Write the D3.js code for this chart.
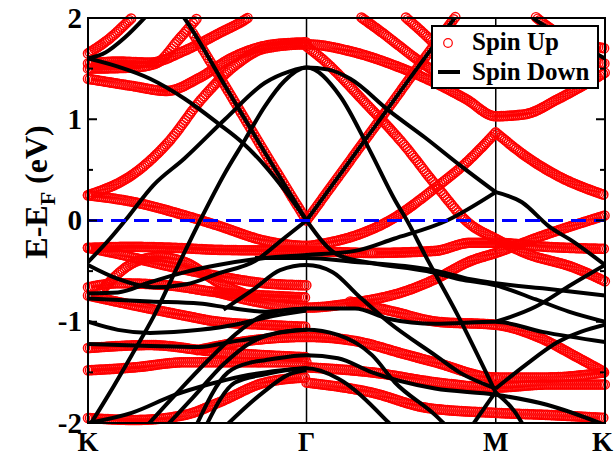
<!DOCTYPE html>
<html><head><meta charset="utf-8">
<script src="https://cdn.jsdelivr.net/npm/d3@7"></script>
<style>body{margin:0;background:#fff}</style>
</head><body><svg id="c" width="614" height="457"></svg>
<script>
// ---- axis data ----
const kTicks = [0, 1, 1.866, 2.366];
const kLabels = ["K", "Γ", "M", "K"];
const eTicks = [-2, -1, 0, 1, 2];
const eMinor = [-1.5, -0.5, 0.5, 1.5];
const legendLabels = ["Spin Up", "Spin Down"];

// ---- Spin Up bands (red circles): [k, E] ----
const up1 = [[0,0.25],[0.215,0.47],[0.366,0.77],[0.52,1.20],[0.673,1.53],[0.81,1.70],[1.0,1.74],[1.222,1.66],[1.405,1.53],[1.588,1.36],[1.73,1.20],[1.866,1.03],[2.0,1.05],[2.151,1.20],[2.366,1.46]];
const up2 = [[0,0.25],[0.215,0.18],[0.444,0.05],[0.595,-0.05],[0.81,-0.20],[1.0,-0.25],[1.07,-0.23],[1.222,-0.15],[1.38,0.0],[1.588,0.32],[1.73,0.57],[1.866,0.87]];
const up2b = [[1.866,0.87],[2.0,0.64],[2.151,0.44],[2.366,0.25]];
const up3 = [[1.0,0],[1.29,0.86],[1.57,1.69],[1.72,2.12]];
const up4 = [[0.48,1.85],[0.627,1.33],[0.81,0.67],[1.0,0]];
const up5 = [[1.0,1.72],[1.07,1.6],[1.27,1.16],[1.43,0.79],[1.61,0.30],[1.739,-0.02],[1.866,-0.18],[2.0,-0.32],[2.23,-0.47],[2.366,-0.60]];
const up6 = [[0.595,-0.71],[0.764,-0.80],[1.0,-0.86],[1.222,-0.81],[1.45,-0.70],[1.588,-0.58],[1.75,-0.40],[1.866,-0.32],[2.08,-0.15],[2.366,0.05]];
const up7 = [[0,-0.27],[0.2,-0.26],[0.4,-0.27],[0.6,-0.29],[1.0,-0.30],[1.3,-0.32],[1.588,-0.30],[1.75,-0.22],[1.866,-0.22],[2.1,-0.26],[2.366,-0.28]];
const up8 = [[0,-0.27],[0.137,-0.33],[0.366,-0.45],[0.6,-0.55],[0.81,-0.62],[1.0,-0.64]];
const up9 = [[0,-0.66],[0.137,-0.62],[0.366,-0.64],[0.595,-0.71],[0.81,-0.74],[1.0,-0.76]];
const up10 = [[0,-0.74],[0.215,-0.84],[0.444,-0.94],[0.595,-1.0],[0.81,-1.03],[1.0,-1.05]];
const up11 = [[0,-1.26],[0.284,-1.23],[0.595,-1.30],[0.81,-1.33],[1.0,-1.35]];
const up12 = [[0,-1.48],[0.215,-1.45],[0.444,-1.40],[0.673,-1.40],[0.81,-1.40],[1.0,-1.40]];
const up13 = [[0,-1.95],[0.215,-1.97],[0.444,-1.92],[0.595,-1.80],[0.81,-1.60],[1.0,-1.55]];
const up14 = [[0,1.65],[0.10,1.80],[0.2,2.0],[0.25,2.1]];
const up15 = [[0,1.55],[0.137,1.57],[0.284,1.56],[0.444,1.68],[0.6,1.85],[0.73,2.0],[0.78,2.08]];
const up16 = [[0,1.50],[0.2,1.51],[0.31,1.55],[0.42,1.80],[0.52,2.05]];
const up17 = [[0,1.40],[0.2,1.33],[0.36,1.28],[0.51,1.41],[0.66,1.61],[0.85,1.74],[1.0,1.76]];
const up18 = [[0.5,-1.28],[0.764,-1.18],[1.0,-1.15],[1.222,-1.19],[1.45,-1.32],[1.588,-1.40],[1.866,-1.55],[2.1,-1.55],[2.366,-1.5]];
const up19 = [[1.2,-0.80],[1.4,-0.90],[1.6,-1.0],[1.866,-1.03],[2.08,-1.17],[2.23,-1.34],[2.366,-1.5]];
const up20 = [[1.0,-1.45],[1.3,-1.5],[1.6,-1.6],[1.866,-1.65],[2.1,-1.62],[2.366,-1.62]];
const up21 = [[1.0,-1.6],[1.3,-1.7],[1.55,-1.85],[1.866,-1.9],[2.1,-1.92],[2.366,-1.95]];
const up22 = [[1.222,2.05],[1.35,1.85],[1.5,1.6],[1.6,1.45]];
const up23 = [[1.43,2.05],[1.55,1.82],[1.65,1.6]];
const up24 = [[2.0,2.1],[2.15,1.85],[2.366,1.7]];
const up25 = [[2.2,1.6],[2.366,1.55]];
const up26 = [[0.05,-0.72],[0.215,-0.41],[0.32,-0.36],[0.444,-0.41],[0.595,-0.61],[0.75,-0.75]];
const spinUp = [up1,up2,up2b,up3,up4,up5,up6,up7,up8,up9,up10,up11,up12,up13,up14,up15,up16,up17,up18,up19,up20,up21,up22,up23,up24,up25,up26];

// ---- Spin Down bands (black lines): [k, E] ----
const dn1 = [[0.40,2.12],[0.444,1.99],[0.627,1.33],[0.81,0.67],[1.0,0]];
const dn1b = [[1.0,0],[1.144,-0.34],[1.30,-0.42],[1.55,-0.50],[1.70,-0.58],[1.866,-0.64],[2.05,-0.78],[2.2,-0.90],[2.366,-1.0]];
const dn2 = [[0,1.6],[0.137,1.52],[0.284,1.40],[0.444,1.20],[0.595,0.96],[0.706,0.77],[0.81,0.54],[0.90,0.30],[1.0,0]];
const dn2b = [[1.0,0],[1.29,0.86],[1.57,1.69],[1.72,2.12]];
const dn3 = [[0,-0.44],[0.14,-0.58],[0.30,-0.66],[0.45,-0.63],[0.60,-0.52],[0.764,-0.40],[0.90,-0.17],[1.0,0]];
const dn4 = [[0,1.6],[0.08,1.66],[0.17,1.81],[0.28,2.05]];
const dn5 = [[0,-0.41],[0.10,-0.18],[0.17,0],[0.30,0.35],[0.44,0.61],[0.627,1.0],[0.81,1.36],[0.92,1.47],[1.0,1.51],[1.10,1.49],[1.20,1.40],[1.38,1.08],[1.542,0.82],[1.70,0.55],[1.866,0.28]];
const dn5b = [[1.866,0.28],[1.986,0.18],[2.105,-0.05],[2.229,-0.22],[2.366,-0.44]];
const dn6 = [[0,-2.05],[0.10,-1.7],[0.20,-1.33],[0.30,-0.95],[0.40,-0.50],[0.513,0],[0.627,0.47],[0.719,0.80],[0.81,1.13],[0.90,1.38],[1.0,1.51],[1.153,1.23],[1.29,0.69],[1.405,0.2],[1.465,-0.02],[1.542,-0.34],[1.693,-0.94],[1.866,-1.70]];
const dn6b = [[1.866,-1.70],[1.95,-1.88],[2.0,-2.05]];
const dn7 = [[0,-0.72],[0.137,-0.71],[0.284,-0.61],[0.444,-0.51],[0.595,-0.44],[0.81,-0.37],[1.0,-0.34],[1.222,-0.30],[1.40,-0.18],[1.643,0],[1.866,0.28]];
const dn8 = [[0.764,-0.37],[1.0,-0.37],[1.222,-0.41],[1.45,-0.45],[1.60,-0.50],[1.75,-0.58],[1.866,-0.62],[2.08,-0.67],[2.366,-0.74]];
const dn9 = [[0,-0.77],[0.284,-0.80],[0.51,-0.82],[0.64,-0.86],[0.81,-0.90],[1.0,-0.87],[1.222,-0.87],[1.373,-0.97],[1.588,-1.02],[1.866,-1.0],[2.08,-1.10],[2.366,-1.20]];
const dn10 = [[0,-1.0],[0.137,-1.08],[0.284,-1.11],[0.513,-1.08],[0.673,-1.03],[0.81,-0.96],[1.0,-0.89]];
const dn11 = [[0.62,-0.88],[0.764,-0.67],[0.879,-0.49],[1.0,-0.44],[1.12,-0.51],[1.236,-0.74],[1.373,-1.0],[1.588,-1.33],[1.70,-1.50],[1.866,-1.66]];
const dn11b = [[1.866,-1.66],[2.0,-1.43],[2.15,-1.2],[2.366,-1.03]];
const dn12 = [[0,-1.22],[0.284,-1.24],[0.51,-1.25],[0.65,-1.2],[0.764,-1.16],[0.89,-1.10],[1.0,-1.08],[1.144,-1.13],[1.30,-1.33],[1.405,-1.60],[1.588,-1.92],[1.65,-2.05]];
const dn13 = [[0.49,-2.05],[0.64,-1.5],[0.75,-1.40],[0.81,-1.38],[1.0,-1.33],[1.144,-1.36],[1.30,-1.5],[1.588,-1.66],[1.866,-1.72],[2.1,-1.82],[2.366,-2.02]];
const dn14 = [[0.535,-2.05],[0.673,-1.60],[0.81,-1.52],[1.0,-1.46],[1.144,-1.56],[1.373,-1.99],[1.40,-2.05]];
const dn15 = [[0.62,-2.05],[0.80,-1.70],[0.92,-1.52],[1.0,-1.48]];
const dn16 = [[0.26,-2.05],[0.40,-1.72],[0.55,-1.38],[0.70,-1.08],[0.81,-0.93],[1.0,-0.87]];
const dn17 = [[0.35,-2.05],[0.48,-1.75],[0.62,-1.42],[0.75,-1.20],[0.85,-1.12],[1.0,-1.08]];
const dn18 = [[1.75,-2.05],[1.866,-1.69]];
const dn19 = [[1.98,2.1],[2.05,1.98],[2.2,1.8],[2.366,1.6]];
const dn20 = [[1.866,-1.0],[2.05,-0.85],[2.2,-0.65],[2.366,-0.44]];
const dn21 = [[0,-2.0],[0.2,-1.9],[0.4,-1.72],[0.55,-1.62],[0.70,-1.54],[0.81,-1.50],[1.0,-1.46]];
const spinDown = [dn1,dn1b,dn2,dn2b,dn3,dn4,dn5,dn5b,dn6,dn6b,dn7,dn8,dn9,dn10,dn11,dn11b,dn12,dn13,dn14,dn15,dn16,dn17,dn18,dn19,dn20,dn21];

// ---- drawing ----
const svg = d3.select("#c");
const L = 88, R = 605, T = 18, B = 423;
const x = d3.scaleLinear().domain([0, 2.366]).range([L, R]);
const y = d3.scaleLinear().domain([-2, 2]).range([B, T]);
const FONT = "'Liberation Serif','Times New Roman',serif";

svg.append("defs").append("clipPath").attr("id", "plot")
  .append("rect").attr("x", L).attr("y", T).attr("width", R - L).attr("height", B - T);

const line = d3.line().x(d => x(d[0])).y(d => y(d[1])).curve(d3.curveMonotoneX);

// high-symmetry vertical lines
svg.append("g").selectAll("line").data(kTicks.slice(1, 3)).join("line")
  .attr("x1", d => x(d)).attr("x2", d => x(d)).attr("y1", T).attr("y2", B)
  .attr("stroke", "#000").attr("stroke-width", 1.5);

// spin up: circles at uniform k spacing along each band
const gUp = svg.append("g");
const DX = 1.6;
spinUp.forEach(band => {
  const p = gUp.append("path").attr("d", line(band)).attr("fill", "none").attr("stroke", "none");
  const node = p.node(), len = node.getTotalLength();
  const pts = []; let lastX = -1e9;
  for (let s = 0; s <= len; s += 0.4) {
    const q = node.getPointAtLength(s);
    if (q.x - lastX >= DX) { pts.push([q.x, q.y]); lastX = q.x; }
  }
  p.remove();
  gUp.append("g").selectAll("circle")
    .data(pts.filter(q => q[1] >= T - 1 && q[1] <= B + 1 && q[0] >= L - 0.5 && q[0] <= R + 0.5))
    .join("circle").attr("cx", q => q[0]).attr("cy", q => q[1]).attr("r", 4.6)
    .attr("fill", "none").attr("stroke", "#ff0000").attr("stroke-width", 1.4);
});

// spin down: black lines
svg.append("g").attr("clip-path", "url(#plot)").selectAll("path").data(spinDown).join("path")
  .attr("d", line).attr("fill", "none").attr("stroke", "#000").attr("stroke-width", 4)
  .attr("stroke-linejoin", "round");

// Fermi level
svg.append("line").attr("x1", L).attr("x2", R).attr("y1", y(0)).attr("y2", y(0))
  .attr("stroke", "#0000ff").attr("stroke-width", 3).attr("stroke-dasharray", "15,8");

// frame
svg.append("rect").attr("x", L).attr("y", T).attr("width", R - L).attr("height", B - T)
  .attr("fill", "none").attr("stroke", "#000").attr("stroke-width", 2);

// ticks (inward, both sides)
const gt = svg.append("g").attr("stroke", "#000").attr("stroke-width", 2);
[[L, 1], [R, -1]].forEach(([x0, dir]) => {
  gt.append("g").selectAll("line").data(eTicks).join("line")
    .attr("x1", x0).attr("x2", x0 + dir * 9).attr("y1", d => y(d)).attr("y2", d => y(d));
  gt.append("g").selectAll("line").data(eMinor).join("line")
    .attr("x1", x0).attr("x2", x0 + dir * 5).attr("y1", d => y(d)).attr("y2", d => y(d));
});

// tick labels
svg.append("g").selectAll("text").data(eTicks).join("text")
  .attr("x", 82).attr("y", d => y(d)).attr("dy", "0.33em").attr("text-anchor", "end")
  .attr("font-family", FONT).attr("font-weight", "bold").attr("font-size", 29)
  .text(d => d);
svg.append("g").selectAll("text").data(kTicks).join("text")
  .attr("x", (d, i) => i === kTicks.length - 1 ? 613 : x(d)).attr("y", 451)
  .attr("text-anchor", (d, i) => i === kTicks.length - 1 ? "end" : "middle")
  .attr("font-family", FONT).attr("font-weight", "bold").attr("font-size", 27)
  .text((d, i) => kLabels[i]);

// y-axis title
const yt = svg.append("text").attr("transform", "translate(47,192) rotate(-90)")
  .attr("text-anchor", "middle").attr("font-family", FONT).attr("font-weight", "bold").attr("font-size", 32);
yt.append("tspan").text("E-E");
yt.append("tspan").attr("font-size", 22).attr("dy", 8).text("F");
yt.append("tspan").attr("dy", -8).text(" (eV)");

// legend
const lg = svg.append("g");
lg.append("rect").attr("x", 432).attr("y", 26).attr("width", 166).attr("height", 62)
  .attr("fill", "#fff").attr("stroke", "#000").attr("stroke-width", 2);
lg.append("circle").attr("cx", 448).attr("cy", 43).attr("r", 4.3)
  .attr("fill", "none").attr("stroke", "#ff0000").attr("stroke-width", 1.2);
lg.append("line").attr("x1", 438).attr("x2", 460).attr("y1", 72).attr("y2", 72)
  .attr("stroke", "#000").attr("stroke-width", 4);
lg.selectAll("text").data(legendLabels).join("text")
  .attr("x", 472).attr("y", (d, i) => 50 + i * 30)
  .attr("font-family", FONT).attr("font-weight", "bold").attr("font-size", 25)
  .text(d => d);
</script>
</body></html>
